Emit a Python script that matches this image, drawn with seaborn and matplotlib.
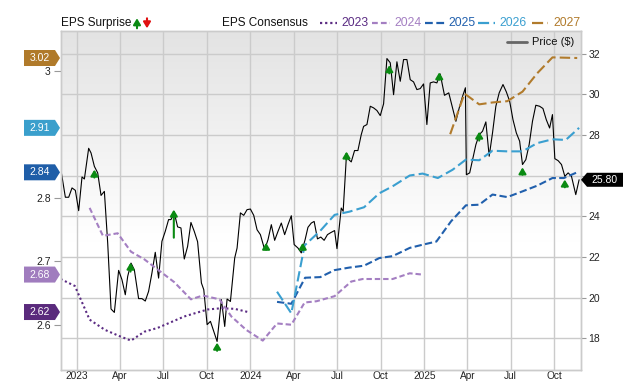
import numpy as np
import pandas as pd
import matplotlib
matplotlib.use("Agg")
import matplotlib.pyplot as plt
import matplotlib.dates as mdates
import matplotlib.transforms as mtransforms
from matplotlib.patches import Polygon, FancyArrowPatch
from matplotlib.lines import Line2D
import seaborn as sns

# ---------------- data ----------------
price_dates = [
    "2022-11-30", "2022-12-08", "2022-12-15", "2022-12-22", "2022-12-29", "2023-01-05", "2023-01-12",
    "2023-01-17", "2023-01-26", "2023-01-31", "2023-02-07", "2023-02-14", "2023-02-21", "2023-02-28",
    "2023-03-07", "2023-03-14", "2023-03-21", "2023-03-30", "2023-04-06", "2023-04-13", "2023-04-18",
    "2023-04-25", "2023-05-02", "2023-05-11", "2023-05-18", "2023-05-25", "2023-06-01", "2023-06-08",
    "2023-06-15", "2023-06-22", "2023-06-29", "2023-07-06", "2023-07-13", "2023-07-18", "2023-07-25",
    "2023-08-01", "2023-08-08", "2023-08-15", "2023-08-22", "2023-08-29", "2023-09-05", "2023-09-12",
    "2023-09-20", "2023-09-25", "2023-10-02", "2023-10-09", "2023-10-16", "2023-10-23", "2023-11-01",
    "2023-11-08", "2023-11-13", "2023-11-20", "2023-11-29", "2023-12-04", "2023-12-11", "2023-12-18",
    "2023-12-25", "2024-01-01", "2024-01-08", "2024-01-15", "2024-01-22", "2024-01-31", "2024-02-07",
    "2024-02-14", "2024-02-21", "2024-02-28", "2024-03-06", "2024-03-13", "2024-03-20", "2024-03-27",
    "2024-04-02", "2024-04-10", "2024-04-17", "2024-04-25", "2024-05-01", "2024-05-08", "2024-05-14",
    "2024-05-21", "2024-05-28", "2024-06-04", "2024-06-11", "2024-06-18", "2024-06-26", "2024-07-01",
    "2024-07-10", "2024-07-14", "2024-07-21", "2024-07-26", "2024-07-31", "2024-08-07", "2024-08-14",
    "2024-08-21", "2024-08-26", "2024-09-02", "2024-09-09", "2024-09-16", "2024-09-23", "2024-09-30",
    "2024-10-07", "2024-10-14", "2024-10-21", "2024-10-28", "2024-11-04", "2024-11-11", "2024-11-18",
    "2024-11-25", "2024-12-02", "2024-12-09", "2024-12-16", "2024-12-23", "2024-12-30", "2025-01-06",
    "2025-01-13", "2025-01-20", "2025-01-27", "2025-02-03", "2025-02-12", "2025-02-21", "2025-03-01",
    "2025-03-08", "2025-03-15", "2025-03-22", "2025-03-28", "2025-03-30", "2025-04-06", "2025-04-13",
    "2025-04-19", "2025-04-26", "2025-05-03", "2025-05-10", "2025-05-17", "2025-05-24", "2025-05-31",
    "2025-06-07", "2025-06-15", "2025-06-22", "2025-06-29", "2025-07-06", "2025-07-13", "2025-07-20",
    "2025-07-26", "2025-08-02", "2025-08-09", "2025-08-16", "2025-08-23", "2025-08-31", "2025-09-07",
    "2025-09-14", "2025-09-21", "2025-09-27", "2025-10-02", "2025-10-09", "2025-10-16", "2025-10-23",
    "2025-10-30", "2025-11-06", "2025-11-15", "2025-11-22",
]
price_values = [
    26.10, 24.94, 24.94, 25.40, 25.28, 24.28, 25.94,
    25.84, 27.35, 27.12, 26.46, 26.14, 25.03, 25.23,
    22.69, 19.44, 19.27, 21.34, 20.88, 20.14, 21.04,
    21.70, 21.37, 19.95, 19.95, 19.83, 20.31, 21.21,
    22.23, 20.96, 22.77, 23.26, 23.84, 23.84, 24.17,
    23.48, 23.43, 21.90, 22.52, 23.70, 23.26, 22.75,
    20.72, 20.39, 18.67, 18.83, 18.34, 17.84, 19.90,
    18.58, 19.93, 19.81, 21.95, 22.44, 24.17, 24.05,
    24.33, 24.36, 24.05, 23.34, 23.10, 22.36, 22.85,
    23.59, 22.82, 23.26, 23.67, 23.10, 23.59, 24.03,
    22.61, 22.44, 22.20, 22.85, 23.46, 23.67, 23.75,
    22.89, 22.98, 22.82, 23.10, 23.20, 23.30, 22.41,
    24.41, 24.25, 27.04, 26.79, 26.68, 27.24, 27.24,
    28.02, 28.43, 28.52, 29.42, 29.34, 29.21, 28.96,
    29.54, 31.77, 31.56, 29.99, 31.61, 30.65, 31.72,
    31.72, 30.73, 30.62, 30.24, 30.29, 30.52, 28.52,
    30.57, 30.62, 30.57, 31.01, 29.96, 30.08, 29.34,
    28.68, 29.34, 29.91, 30.33, 26.05, 26.14, 26.88,
    27.53, 28.02, 28.19, 28.65, 26.96, 28.11, 29.42,
    30.08, 30.49, 30.13, 29.67, 28.76, 28.11, 27.70,
    26.55, 26.79, 27.53, 28.68, 29.47, 29.42, 29.31,
    28.76, 28.35, 29.01, 26.84, 26.74, 26.55, 25.97,
    26.14, 25.97, 25.07, 25.80,
]

eps_2023_dates = ["2022-11-28", "2022-12-28", "2023-01-28", "2023-03-01", "2023-04-01", "2023-04-25",
                  "2023-05-23", "2023-06-20", "2023-07-18", "2023-08-15", "2023-09-06", "2023-10-03",
                  "2023-11-01", "2023-11-29", "2023-12-27"]
eps_2023 = [2.672, 2.661, 2.608, 2.592, 2.582, 2.575, 2.589, 2.595, 2.604, 2.613, 2.618, 2.624,
            2.626, 2.625, 2.620]

eps_2024_dates = ["2023-01-28", "2023-02-25", "2023-03-28", "2023-04-25", "2023-05-23", "2023-06-20",
                  "2023-07-25", "2023-08-29", "2023-09-23", "2023-10-28", "2023-11-22", "2023-12-23",
                  "2024-01-27", "2024-02-26", "2024-03-27", "2024-04-24", "2024-05-19", "2024-06-26",
                  "2024-07-31", "2024-08-24", "2024-10-26", "2024-12-01", "2024-12-27"]
eps_2024 = [2.784, 2.740, 2.744, 2.715, 2.703, 2.687, 2.667, 2.640, 2.646, 2.640, 2.613, 2.592,
            2.575, 2.602, 2.600, 2.635, 2.637, 2.645, 2.668, 2.672, 2.672, 2.681, 2.679]

eps_2025_dates = ["2024-02-26", "2024-03-27", "2024-04-25", "2024-05-27", "2024-06-26", "2024-07-27",
                  "2024-08-27", "2024-09-28", "2024-10-26", "2024-12-01", "2024-12-28", "2025-01-26",
                  "2025-02-26", "2025-03-29", "2025-04-26", "2025-05-24", "2025-06-24", "2025-07-26",
                  "2025-08-26", "2025-09-27", "2025-10-21", "2025-11-18"]
eps_2025 = [2.636, 2.633, 2.674, 2.675, 2.686, 2.690, 2.693, 2.705, 2.708, 2.721, 2.726, 2.731,
            2.763, 2.788, 2.789, 2.805, 2.801, 2.810, 2.819, 2.831, 2.831, 2.840]

eps_2026_dates = ["2024-02-26", "2024-03-27", "2024-04-24", "2024-05-27", "2024-06-26", "2024-07-27",
                  "2024-08-27", "2024-09-28", "2024-10-26", "2024-12-01", "2024-12-28", "2025-01-29",
                  "2025-03-01", "2025-03-29", "2025-04-26", "2025-05-24", "2025-06-24", "2025-07-26",
                  "2025-08-26", "2025-09-27", "2025-10-25", "2025-11-22"]
eps_2026 = [2.652, 2.618, 2.725, 2.748, 2.773, 2.778, 2.785, 2.807, 2.818, 2.835, 2.838, 2.831,
            2.844, 2.860, 2.859, 2.874, 2.873, 2.873, 2.886, 2.892, 2.891, 2.910]

eps_2027_dates = ["2025-02-24", "2025-03-26", "2025-04-26", "2025-05-24", "2025-06-24", "2025-07-26",
                  "2025-08-26", "2025-09-27", "2025-11-18"]
eps_2027 = [2.900, 2.964, 2.947, 2.950, 2.952, 2.967, 2.996, 3.021, 3.020]

surprise_dates = ["2023-02-07", "2023-04-24", "2023-07-24", "2023-10-23", "2024-02-03", "2024-04-20",
                  "2024-07-21", "2024-10-19", "2025-02-01", "2025-04-26", "2025-07-26", "2025-10-23"]
surprise_tip = [26.30, 21.72, 24.33, 17.78, 22.70, 22.70, 27.19, 31.44, 31.09, 28.17, 26.41, 25.81]
surprise_base = [25.91, 21.28, 22.95, 17.38, 22.36, 22.36, 26.79, 31.04, 30.73, 27.73, 26.05, 25.43]

series_names = ["2023", "2024", "2025", "2026", "2027"]
series_colors = ["#5b2c83", "#a47fc2", "#2160ad", "#3a9fd0", "#b17b2c"]
tab_colors = ["#5a2a7c", "#a07cbe", "#1f5ea8", "#3a9fcc", "#b07a2a"]
series_styles = [(0, (1, 1.3)), (0, (2.6, 1.4)), (0, (3.5, 1.6)), (0, (5, 2)), (0, (5, 2))]

xtick_dates = ["2023-01-01", "2023-04-01", "2023-07-01", "2023-10-01", "2024-01-01", "2024-04-01",
               "2024-07-01", "2024-10-01", "2025-01-01", "2025-04-01", "2025-07-01", "2025-10-01"]
xtick_labels = ["2023", "Apr", "Jul", "Oct", "2024", "Apr", "Jul", "Oct", "2025", "Apr", "Jul", "Oct"]
price_ticks = [18, 20, 22, 24, 26, 28, 30, 32]
price_tick_labels = ["18", "20", "22", "24", "", "28", "30", "32"]
eps_ticks = [2.6, 2.7, 2.8, 3.0]
eps_tick_labels = ["2.6", "2.7", "2.8", "3"]

# ---------------- style ----------------
sns.set_theme(style="white")
plt.rcParams['font.family'] = ['Liberation Sans', 'DejaVu Sans']

W, H = 640, 382
fig = plt.figure(figsize=(W / 100, H / 100), dpi=100)
rect = [60.6 / W, 1 - 369.5 / H, 520.4 / W, 338.8 / H]

# gradient background
bg = fig.add_axes(rect, zorder=-1)
g = np.linspace(0, 1, 300).reshape(-1, 1)
shade = 0.89 + (1 - 0.89) * np.clip(g / 0.62, 0, 1)
bg.imshow(np.dstack([shade, shade, shade]), aspect='auto', extent=[0, 1, 0, 1], origin='upper')
bg.set_axis_off()

ax = fig.add_axes(rect)
ax.patch.set_visible(False)
ax_eps = ax.twinx()
ax_eps.patch.set_visible(False)

pdates = pd.to_datetime(price_dates)
sns.lineplot(x=pdates, y=price_values, ax=ax, color="black", lw=0.8)

eps_sets = [(eps_2023_dates, eps_2023), (eps_2024_dates, eps_2024), (eps_2025_dates, eps_2025),
            (eps_2026_dates, eps_2026), (eps_2027_dates, eps_2027)]
for (d, v), c, ls in zip(eps_sets, series_colors, series_styles):
    sns.lineplot(x=pd.to_datetime(d), y=v, ax=ax_eps, color=c, lw=1.5)
    ax_eps.lines[-1].set_linestyle(ls)

xlo, xhi = pd.Timestamp("2022-11-28"), pd.Timestamp("2025-11-26")
ax.set_xlim(xlo, xhi)
ax_eps.set_xlim(xlo, xhi)
ax.set_ylim(16.46, 33.14)
ax_eps.set_ylim(2.5295, 3.063)

grid_c = "#cbcbcb"
ax.set_xticks(pd.to_datetime(xtick_dates))
ax.set_xticklabels(xtick_labels)
ax.set_yticks(price_ticks)
ax.set_yticklabels(price_tick_labels)
ax.yaxis.tick_right()
ax_eps.yaxis.tick_left()
ax_eps.set_yticks(eps_ticks)
ax_eps.set_yticklabels(eps_tick_labels)
ax.grid(True, color=grid_c, lw=1.0)
ax_eps.grid(False)
for a in (ax, ax_eps):
    a.set_xlabel("")
    a.set_ylabel("")
    for s in a.spines.values():
        s.set_color(grid_c)
        s.set_linewidth(1.0)
ax.tick_params(axis='x', length=0, pad=1.0, labelsize=7.3, colors="#222222")
ax.tick_params(axis='y', length=3.5, width=0.8, color="#999999", pad=2, labelsize=7.5,
               labelcolor="#222222", right=True, left=False)
ax_eps.tick_params(axis='y', length=5, width=0.8, color="#999999", pad=2, labelsize=7.5,
                   labelcolor="#222222", left=True, right=False)
ax_eps.tick_params(axis='x', length=0, labelbottom=False)

# surprise arrows
green = "#0a8a12"
astyle = "-|>,head_length=0.6,head_width=0.36"
for d, t, b in zip(surprise_dates, surprise_tip, surprise_base):
    xn = mdates.date2num(pd.Timestamp(d))
    ax_eps.annotate("", xy=(xn, t), xytext=(xn, b), xycoords=ax.transData, textcoords=ax.transData,
                    arrowprops=dict(arrowstyle=astyle, color=green,
                                    lw=1.5, mutation_scale=6, shrinkA=0, shrinkB=0),
                    annotation_clip=False)

# left value tabs
tr_eps = mtransforms.blended_transform_factory(fig.transFigure, ax_eps.transData)
hh = 8.0 / 635
for v, c in zip([eps_2023[-1], eps_2024[-1], eps_2025[-1], eps_2026[-1], eps_2027[-1]], tab_colors):
    x0, x1, x2 = 24 / W, 55 / W, 60 / W
    poly = Polygon([[x0, v - hh], [x1, v - hh], [x2, v], [x1, v + hh], [x0, v + hh]], closed=True,
                   transform=tr_eps, facecolor=c, edgecolor="none")
    fig.add_artist(poly)
    fig.text(39.5 / W, v, f"{v:.2f}", transform=tr_eps, color="white", fontsize=7.5,
             ha="center", va="center")

# right price tag
tr_p = mtransforms.blended_transform_factory(fig.transFigure, ax.transData)
pv = price_values[-1]
ph = 7.0 / 20.3
poly = Polygon([[581 / W, pv], [587 / W, pv + ph], [623 / W, pv + ph], [623 / W, pv - ph],
                [587 / W, pv - ph]], closed=True, transform=tr_p, facecolor="black", edgecolor="none")
fig.add_artist(poly)
fig.text(605 / W, pv, f"{pv:.2f}", transform=tr_p, color="white", fontsize=7.5, ha="center", va="center")

# header legend
ly = 1 - 23.3 / H
fig.text(60.7 / W, ly, "EPS Surprise", fontsize=8.5, color="#111111", va="center", ha="left")
fig.add_artist(FancyArrowPatch((137 / W, ly - 5 / H), (137 / W, ly + 5 / H),
               transform=fig.transFigure, arrowstyle=astyle,
               color=green, lw=1.5, mutation_scale=6, shrinkA=0, shrinkB=0))
fig.add_artist(FancyArrowPatch((147 / W, ly + 5 / H), (147 / W, ly - 5 / H),
               transform=fig.transFigure, arrowstyle=astyle,
               color="#e01010", lw=1.5, mutation_scale=6, shrinkA=0, shrinkB=0))
fig.text(221.7 / W, ly, "EPS Consensus", fontsize=8.5, color="#111111", va="center", ha="left")
leg_x = [(320, 337, 341.5), (372, 390, 394.5), (425, 445, 448), (478, 495, 499.5), (532, 548, 553)]
for (a, b, t), name, c, ls in zip(leg_x, series_names, series_colors, series_styles):
    fig.add_artist(Line2D([a / W, b / W], [ly, ly], transform=fig.transFigure, color=c, lw=1.6,
                          linestyle=ls))
    fig.text(t / W, ly, name, fontsize=8.7, color=c, va="center", ha="left")

# price legend inside plot
py = 1 - 41.7 / H
fig.add_artist(Line2D([506.7 / W, 526.7 / W], [py, py], transform=fig.transFigure, color="#666666", lw=2))
fig.text(532 / W, py, "Price ($)", fontsize=8, color="#111111", va="center", ha="left")

fig.savefig("out.png", dpi=100)
